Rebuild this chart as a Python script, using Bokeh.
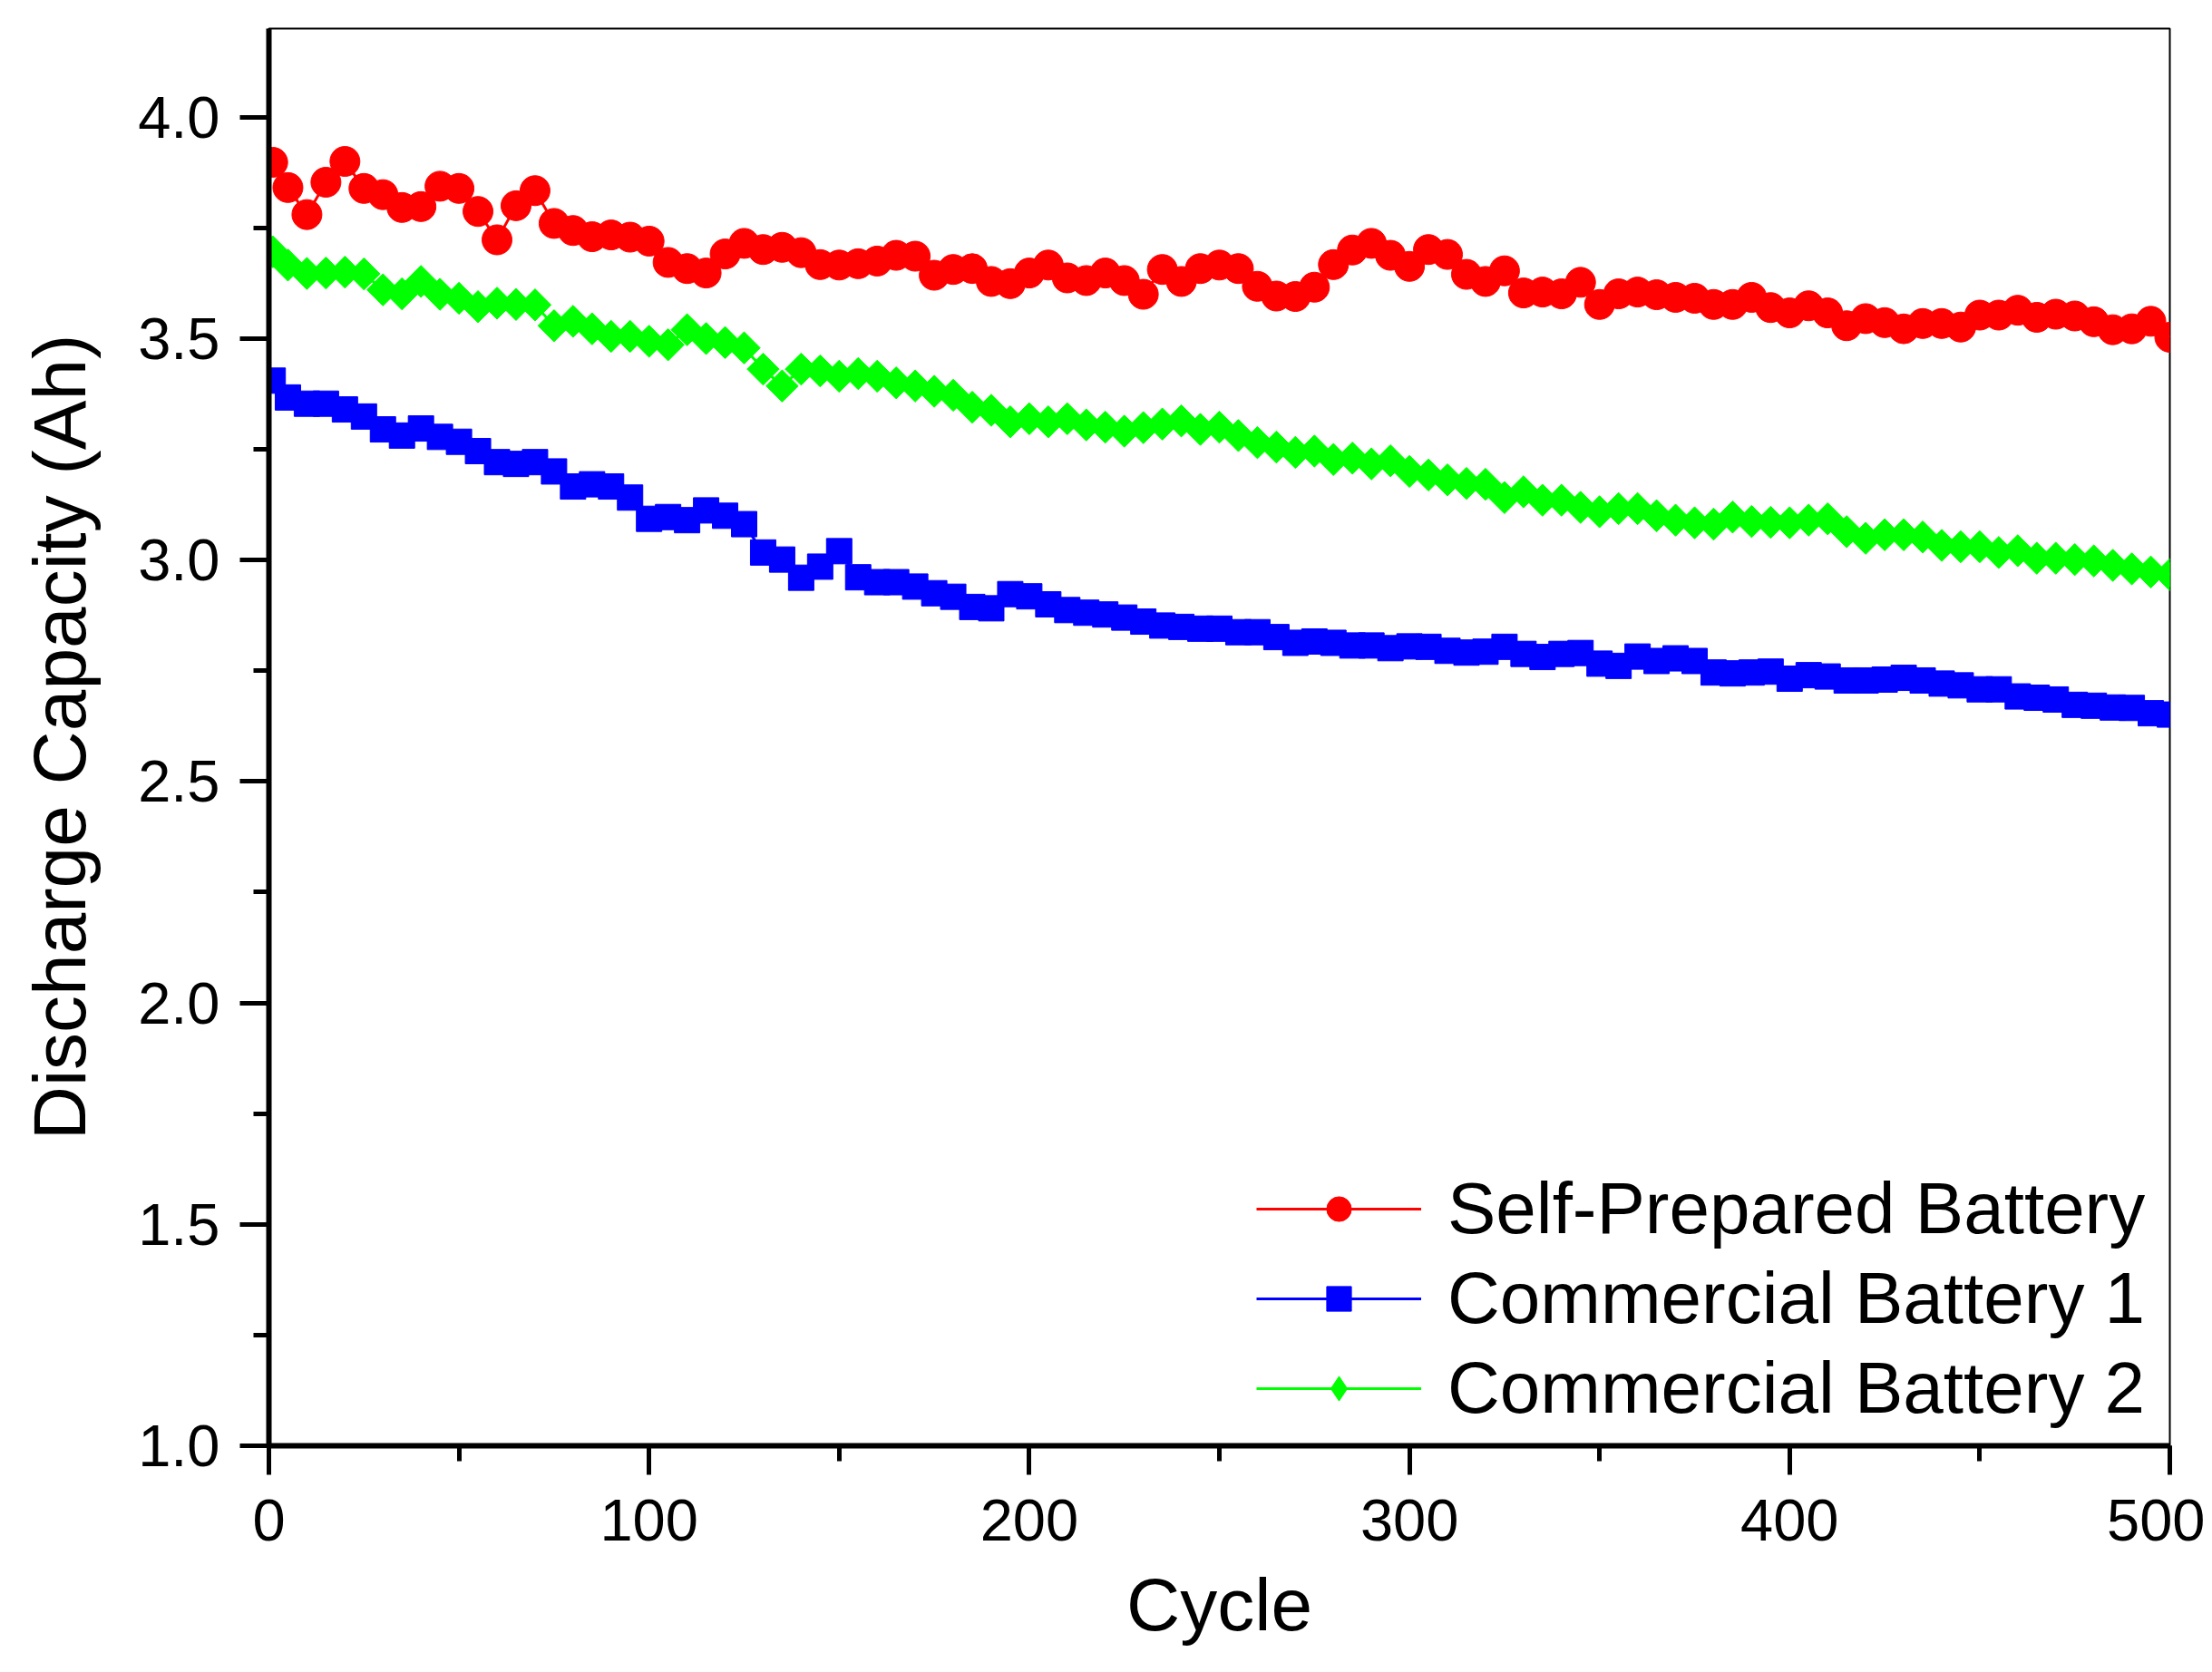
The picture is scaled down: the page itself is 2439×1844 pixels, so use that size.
import math
from bokeh.plotting import figure
from bokeh.models import Range1d, SingleIntervalTicker, NumeralTickFormatter
from bokeh.embed import file_html
from bokeh.resources import INLINE

# ---- data ----
cycles = [1] + list(range(5, 501, 5))

self_prepared = [
    3.898, 3.841, 3.780, 3.853, 3.900, 3.839, 3.825, 3.796, 3.798, 3.844,
    3.839, 3.787, 3.723, 3.800, 3.834, 3.760, 3.744, 3.730, 3.734, 3.729,
    3.720, 3.672, 3.658, 3.648, 3.691, 3.715, 3.701, 3.706, 3.694, 3.667,
    3.666, 3.669, 3.675, 3.688, 3.686, 3.643, 3.656, 3.658, 3.629, 3.624,
    3.648, 3.666, 3.637, 3.631, 3.648, 3.631, 3.600, 3.656, 3.629, 3.658,
    3.666, 3.658, 3.618, 3.596, 3.595, 3.616, 3.667, 3.700, 3.715, 3.688,
    3.663, 3.701, 3.690, 3.645, 3.629, 3.653, 3.603, 3.605, 3.601, 3.627,
    3.577, 3.601, 3.605, 3.599, 3.593, 3.591, 3.577, 3.577, 3.593, 3.570,
    3.558, 3.574, 3.558, 3.529, 3.545, 3.536, 3.522, 3.534, 3.534, 3.526,
    3.553, 3.553, 3.564, 3.548, 3.555, 3.551, 3.538, 3.520, 3.522, 3.539,
    3.503,
]

commercial_1 = [
    3.405, 3.367, 3.353, 3.353, 3.340, 3.324, 3.295, 3.281, 3.297, 3.278,
    3.267, 3.246, 3.221, 3.217, 3.221, 3.200, 3.166, 3.171, 3.166, 3.141,
    3.093, 3.097, 3.090, 3.112, 3.100, 3.081, 3.017, 3.001, 2.960, 2.985,
    3.020, 2.961, 2.950, 2.950, 2.940, 2.925, 2.917, 2.894, 2.891, 2.923,
    2.918, 2.900, 2.887, 2.881, 2.877, 2.870, 2.861, 2.852, 2.849, 2.845,
    2.845, 2.837, 2.837, 2.826, 2.813, 2.816, 2.813, 2.807, 2.807, 2.801,
    2.805, 2.804, 2.795, 2.791, 2.793, 2.804, 2.788, 2.781, 2.788, 2.790,
    2.766, 2.761, 2.782, 2.772, 2.778, 2.772, 2.746, 2.744, 2.746, 2.748,
    2.732, 2.740, 2.737, 2.728, 2.728, 2.730, 2.734, 2.728, 2.721, 2.717,
    2.708, 2.708, 2.692, 2.689, 2.685, 2.673, 2.671, 2.667, 2.666, 2.654,
    2.651,
]

commercial_2 = [
    3.696, 3.666, 3.647, 3.648, 3.650, 3.646, 3.610, 3.601, 3.629, 3.600,
    3.591, 3.572, 3.580, 3.577, 3.576, 3.529, 3.539, 3.522, 3.505, 3.505,
    3.494, 3.486, 3.520, 3.500, 3.491, 3.479, 3.431, 3.393, 3.431, 3.427,
    3.415, 3.421, 3.415, 3.400, 3.393, 3.381, 3.372, 3.345, 3.338, 3.312,
    3.319, 3.312, 3.319, 3.305, 3.300, 3.291, 3.299, 3.307, 3.314, 3.295,
    3.300, 3.281, 3.265, 3.255, 3.243, 3.246, 3.227, 3.230, 3.217, 3.224,
    3.200, 3.192, 3.181, 3.173, 3.171, 3.141, 3.154, 3.135, 3.135, 3.119,
    3.109, 3.116, 3.116, 3.100, 3.090, 3.084, 3.081, 3.097, 3.087, 3.085,
    3.084, 3.090, 3.093, 3.064, 3.049, 3.057, 3.057, 3.052, 3.033, 3.030,
    3.030, 3.017, 3.021, 3.004, 3.004, 3.001, 2.998, 2.988, 2.980, 2.973,
    2.967,
]

series_names = ["Self-Prepared Battery", "Commercial Battery 1", "Commercial Battery 2"]
x_label = "Cycle"
y_label = "Discharge Capacity (Ah)"

FONT = "Liberation Sans"

p = figure(width=2431, height=1836, output_backend="svg", toolbar_location=None,
           x_range=Range1d(0, 500), y_range=Range1d(1.0, 4.2),
           min_border_left=296, min_border_right=39,
           min_border_top=31, min_border_bottom=242)
p.grid.visible = False
p.outline_line_color = "black"
p.outline_line_width = 2
p.background_fill_color = "white"
p.border_fill_color = "white"

p.xaxis.ticker = SingleIntervalTicker(interval=100, num_minor_ticks=2)
p.yaxis.ticker = SingleIntervalTicker(interval=0.5, num_minor_ticks=2)
p.yaxis.formatter = NumeralTickFormatter(format="0.0")
for ax in (p.xaxis[0], p.yaxis[0]):
    ax.axis_line_width = 6
    ax.axis_line_color = "black"
    ax.major_tick_line_width = 5
    ax.minor_tick_line_width = 5
    ax.major_tick_out = 32
    ax.major_tick_in = 0
    ax.minor_tick_out = 17
    ax.minor_tick_in = 0
    ax.major_label_text_font = FONT
    ax.major_label_text_font_size = "65px"
    ax.major_label_text_color = "black"
    ax.axis_label_text_font = FONT
    ax.axis_label_text_font_size = "82px"
    ax.axis_label_text_font_style = "normal"
    ax.axis_label_text_color = "black"
p.xaxis.major_label_standoff = 27
p.yaxis.major_label_standoff = 22
p.xaxis.axis_label = x_label
p.yaxis.axis_label = y_label
p.xaxis.axis_label_standoff = 22
p.yaxis.axis_label_standoff = 38

# red: circles, blue: squares, green: diamonds
red, blue, green = "#FF0000", "#0000FF", "#00FF00"

# Self-Prepared Battery
p.line(cycles, self_prepared, line_color=red, line_width=3,
       legend_label=series_names[0])
p.scatter(cycles, self_prepared, marker="circle", size=33,
          fill_color=red, line_color=red, legend_label=series_names[0])

# Commercial Battery 1
p.line(cycles, commercial_1, line_color=blue, line_width=3,
       legend_label=series_names[1])
p.scatter(cycles, commercial_1, marker="square", size=28,
          fill_color=blue, line_color=blue, legend_label=series_names[1])

# Commercial Battery 2 (diamond glyph for the legend, sitting under the
# wider rotated-square diamonds that draw the band)
p.line(cycles, commercial_2, line_color=green, line_width=3,
       legend_label=series_names[2])
p.scatter(cycles, commercial_2, marker="diamond", size=26,
          fill_color=green, line_color=green, legend_label=series_names[2])
p.scatter(cycles, commercial_2, marker="square", size=25, angle=math.pi / 4,
          fill_color=green, line_color=green)

lg = p.legend[0]
lg.location = (1089, 17)
lg.border_line_color = None
lg.background_fill_alpha = 0
lg.padding = 0
lg.margin = 0
lg.spacing = 7
lg.label_standoff = 29
lg.glyph_width = 182
lg.glyph_height = 68
lg.label_height = 80
lg.label_text_font = FONT
lg.label_text_font_size = "80px"
lg.label_text_color = "black"

open("out.html", "w").write(file_html(p, INLINE))
